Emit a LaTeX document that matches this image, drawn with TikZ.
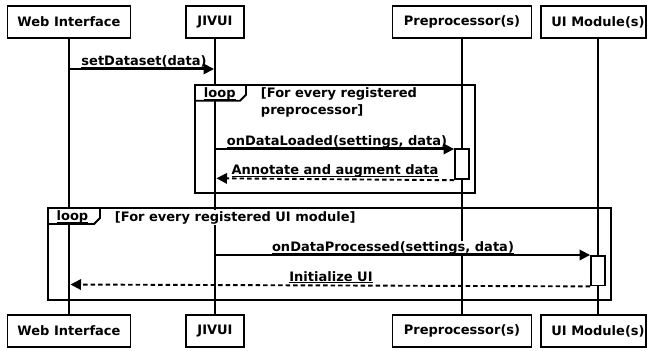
\documentclass[tikz,border=0pt]{standalone}
\usepackage{fontspec}
\setmainfont{DejaVu Sans}
\usetikzlibrary{arrows.meta}
\newcommand{\msgul}[1]{\setbox0\hbox{#1}\rlap{\rule[-2.3bp]{\wd0}{1.1bp}}\box0}
\begin{document}
\begin{tikzpicture}[x=1bp,y=-1bp, line width=1.9bp,
  font=\fontsize{13bp}{17bp}\selectfont\bfseries,
  actor/.style={draw, fill=white, minimum height=32bp, inner sep=0pt},
  msg/.style={-{Triangle[length=10.5bp,width=10.5bp]}},
  reply/.style={msg, dash pattern=on 4.5bp off 3bp},
  lbl/.style={fill=white, inner sep=1bp, anchor=base},
  cond/.style={fill=white, inner sep=1bp, anchor=base west},
  act/.style={draw, fill=white, minimum width=14bp, inner sep=0pt, anchor=north},
  frame/.style={draw},
  tab/.style={draw, fill=white}]
\fill[white] (0,0) rectangle (648,350);
\useasboundingbox (0,0) rectangle (648,350);
% actors top
\node[actor, minimum width=123bp] (webT) at (69,22) {Web Interface};
\node[actor, minimum width=58bp] (jivT) at (215,22) {JIVUI};
\node[actor, minimum width=139bp] (preT) at (462,22) {Preprocessor(s)};
\node[actor, minimum width=105bp] (uiT) at (593.5,22) {};
\node[inner sep=0pt] (uiTt) at (598,22) {UI Module(s)};
% actors bottom
\node[actor, minimum width=123bp] (webB) at (69,331) {Web Interface};
\node[actor, minimum width=58bp] (jivB) at (215,331) {JIVUI};
\node[actor, minimum width=139bp] (preB) at (462,331) {Preprocessor(s)};
\node[actor, minimum width=105bp] (uiB) at (593.5,331) {};
\node[inner sep=0pt] (uiBt) at (598,331) {UI Module(s)};
% lifelines
\draw (webT.south) -- (webB.north);
\draw (jivT.south) -- (jivB.north);
\draw (preT.south) -- (preB.north);
\draw (uiTt |- uiT.south) -- (uiBt |- uiB.north);
% frames
\draw[frame] (195,85) rectangle (475,193);
\draw[tab] (195,85) -- (246,85) -- (246,94.7) -- (240,100.7) -- (195,100.7) -- cycle;
\node[anchor=base west, inner sep=0pt] (loopA) at (203,97.3) {\msgul{loop}};
\node[cond] (condA1) at (259,97.3) {[For every registered};
\node[cond] (condA2) at (259,114) {preprocessor]};
\draw[frame] (48,208) rectangle (611,300);
\draw[tab] (48,208) -- (100,208) -- (100,218) -- (94,224) -- (48,224) -- cycle;
\node[anchor=base west, inner sep=0pt] (loopB) at (55.7,220.7) {\msgul{loop}};
\node[cond] (condB) at (113,221) {[For every registered UI module]};
% activations
\node[act, minimum height=30bp] (preAct) at (462,148.3) {};
\node[act, minimum height=29.5bp] (uiAct) at (598,255) {};
% message labels
\node[lbl] (l1) at (144,65.5) {\msgul{setDataset(data)}};
\node[lbl] (l2) at (337,145.3) {\msgul{onDataLoaded(settings, data)}};
\node[lbl] (l3) at (335,174.5) {\msgul{Annotate and augment data}};
\node[lbl] (l4) at (393,251.5) {\msgul{onDataProcessed(settings, data)}};
\node[lbl] (l5) at (331,281) {\msgul{Initialize UI}};
% coordinates on lifelines
\coordinate (m1s) at (69,69);
\coordinate (m1e) at (214,69);
\coordinate (m2s) at (215,149);
\coordinate (m3e) at (216.5,178.3);
\coordinate (m4s) at (215,255);
\coordinate (m5e) at (70.5,284.5);
% messages
\draw[msg] (m1s) -- (m1e);
\draw[msg] (m2s) -- (m2s -| preAct.west);
\draw[reply] (preAct.south west) -- (m3e);
\draw[msg] (m4s) -- (m4s -| uiAct.west);
\draw[reply] (uiAct.south west) -- (m5e);
\end{tikzpicture}
\end{document}
